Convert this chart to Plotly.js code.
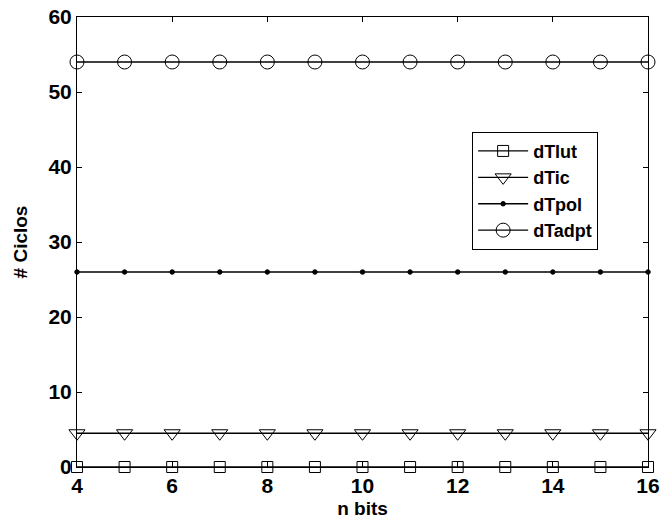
<!DOCTYPE html>
<html>
<head>
<meta charset="utf-8">
<script src="https://cdn.plot.ly/plotly-3.0.1.min.js"></script>
<style>html,body{margin:0;padding:0;background:#fff;}#chart{width:663px;height:523px;}</style>
</head>
<body>
<div id="chart"></div>
<script>
const nBits = [4, 5, 6, 7, 8, 9, 10, 11, 12, 13, 14, 15, 16];
const dTlut = [0, 0, 0, 0, 0, 0, 0, 0, 0, 0, 0, 0, 0];
const dTic = [4.5, 4.5, 4.5, 4.5, 4.5, 4.5, 4.5, 4.5, 4.5, 4.5, 4.5, 4.5, 4.5];
const dTpol = [26, 26, 26, 26, 26, 26, 26, 26, 26, 26, 26, 26, 26];
const dTadpt = [54, 54, 54, 54, 54, 54, 54, 54, 54, 54, 54, 54, 54];
const seriesNames = ['dTlut', 'dTic', 'dTpol', 'dTadpt'];
const xTicks = [4, 6, 8, 10, 12, 14, 16];
const yTicks = [0, 10, 20, 30, 40, 50, 60];

const fam = '"Liberation Sans", Arial, sans-serif';
const font = {family: fam, size: 20, color: '#000', weight: 'bold'};

function tr(name, y, symbol, size) {
  return {
    x: nBits, y: y, name: name, type: 'scatter', mode: 'lines+markers',
    line: {color: '#000', width: 1.3},
    marker: {symbol: symbol, size: size, color: '#000', line: {color: '#000', width: 1}},
    cliponaxis: false
  };
}

const data = [
  tr(seriesNames[0], dTlut, 'square-open', 11),
  tr(seriesNames[1], dTic, 'triangle-down-open', 14),
  tr(seriesNames[2], dTpol, 'circle', 4.5),
  tr(seriesNames[3], dTadpt, 'circle-open', 14)
];

const layout = {
  width: 663, height: 523,
  margin: {l: 77, r: 15, t: 17, b: 56},
  paper_bgcolor: '#fff', plot_bgcolor: '#fff',
  font: font,
  showlegend: true,
  legend: {
    x: 0.692, y: 0.745, xanchor: 'left', yanchor: 'top',
    bordercolor: '#000', borderwidth: 1, bgcolor: '#fff',
    font: {family: fam, size: 18, color: '#000', weight: 'bold'},
    tracegroupgap: 0, itemwidth: 50
  },
  xaxis: {
    range: [4, 16], tickvals: xTicks, ticktext: xTicks.map(String),
    ticks: 'inside', ticklen: 5, tickcolor: '#000', mirror: 'ticks',
    showline: true, linecolor: '#000', linewidth: 1, showgrid: false, zeroline: false,
    automargin: false,
    tickfont: {family: fam, size: 21, color: '#000', weight: 'bold'},
    title: {text: 'n bits', standoff: 5, font: {family: fam, size: 19, color: '#000', weight: 'bold'}}
  },
  yaxis: {
    range: [0, 60], tickvals: yTicks, ticktext: yTicks.map(String),
    ticks: 'inside', ticklen: 5, tickcolor: '#000', mirror: 'ticks',
    showline: true, linecolor: '#000', linewidth: 1, showgrid: false, zeroline: false,
    automargin: false,
    tickfont: {family: fam, size: 21, color: '#000', weight: 'bold'},
    title: {text: '# Ciclos', standoff: 15, font: {family: fam, size: 19, color: '#000', weight: 'bold'}}
  }
};

Plotly.newPlot('chart', data, layout, {displayModeBar: false, staticPlot: true});
</script>
</body>
</html>
